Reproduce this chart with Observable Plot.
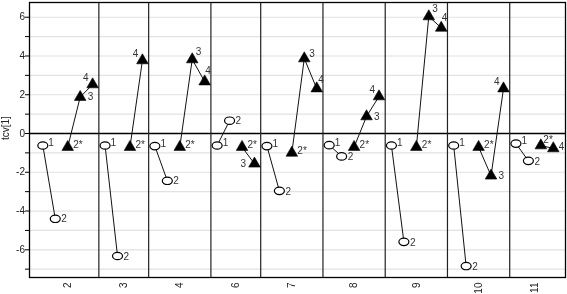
<!DOCTYPE html>
<html><head><meta charset="utf-8">
<script src="https://cdn.jsdelivr.net/npm/d3@7"></script>
<script src="https://cdn.jsdelivr.net/npm/@observablehq/plot@0.6"></script>
<style>
html,body{margin:0;padding:0;background:#fff;}
#chart svg{opacity:0.999;will-change:transform;}
</style>
</head><body><div id="chart"></div>
<script>
// ---- data ----
const panels = ["2","3","4","6","7","8","9","10","11"];
const obsLabels = [
  ["1","2","2*","3","4"],
  ["1","2","2*","4"],
  ["1","2","2*","3","4"],
  ["1","2","2*","3"],
  ["1","2","2*","3","4"],
  ["1","2","2*","3","4"],
  ["1","2","2*","3","4"],
  ["1","2","2*","3","4"],
  ["1","2","2*","4"]
];
const tcv = [
  [-0.62, -4.40, -0.70, 1.88, 2.53],
  [-0.62, -6.32, -0.70, 3.77],
  [-0.65, -2.44, -0.70, 3.82, 2.68],
  [-0.62, 0.66, -0.70, -1.56],
  [-0.65, -2.96, -1.00, 3.87, 2.32],
  [-0.60, -1.18, -0.70, 0.88, 1.91],
  [-0.62, -5.59, -0.70, 6.04, 5.45],
  [-0.62, -6.84, -0.70, -2.18, 2.32],
  [-0.52, -1.41, -0.62, -0.77]
];
const yTicks = [-7,-6,-5,-4,-3,-2,-1,0,1,2,3,4,5,6];
const yLabel = "tcv[1]";

// ---- build table ----
const rows = [];
const starts = [];
const centers = [];
let idx = 0;
panels.forEach((p, pi) => {
  starts.push(idx);
  obsLabels[pi].forEach((lab, j) => {
    rows.push({panel: p, label: lab, value: tcv[pi][j], idx,
      kind: (lab === "1" || lab === "2") ? "circle" : "triangle"});
    idx++;
  });
  centers.push((starts[pi] + idx - 1) / 2);
});
const boundaries = starts.slice(1).map(s => s - 0.5);
const centerLabel = new Map(centers.map((c, i) => [c, panels[i]]));

// label placement (style config)
const defaultPlace = {
  "1": "r1", "2": "r2", "2*": "r1", "3": "r3", "4": "tl"
};
const overridePlace = {
  "4|3": "tr", "9|3": "tr", "7|3": "tr2", "6|3": "l",
  "4|4": "t", "9|4": "t", "7|4": "t2", "11|4": "r4", "11|2*": "t3"
};
const places = {
  r1:  {dx: 5.5, dy: -2.5, textAnchor: "start"},
  r2:  {dx: 6, dy: 0.5, textAnchor: "start"},
  r3:  {dx: 7.5, dy: 0, textAnchor: "start"},
  r4:  {dx: 5.5, dy: -2, textAnchor: "start"},
  tr:  {dx: 3.5, dy: -8, textAnchor: "start"},
  tr2: {dx: 5, dy: -4.5, textAnchor: "start"},
  tl:  {dx: -4, dy: -6.5, textAnchor: "end"},
  t:   {dx: 0.5, dy: -10.5, textAnchor: "start"},
  t2:  {dx: 1.5, dy: -9, textAnchor: "start"},
  t3:  {dx: 2.5, dy: -5.5, textAnchor: "start"},
  l:   {dx: -8.5, dy: 0.5, textAnchor: "end"}
};
rows.forEach(r => {
  r.place = overridePlace[r.panel + "|" + r.label] || defaultPlace[r.label];
});

// ellipse symbol
const ellipse = {
  draw(ctx, size) {
    const rx = Math.sqrt(size / Math.PI), ry = rx * 0.74, k = 0.5523;
    ctx.moveTo(rx, 0);
    ctx.bezierCurveTo(rx, ry * k, rx * k, ry, 0, ry);
    ctx.bezierCurveTo(-rx * k, ry, -rx, ry * k, -rx, 0);
    ctx.bezierCurveTo(-rx, -ry * k, -rx * k, -ry, 0, -ry);
    ctx.bezierCurveTo(rx * k, -ry, rx, -ry * k, rx, 0);
    ctx.closePath();
  }
};

const circles = rows.filter(d => d.kind === "circle");
const triangles = rows.filter(d => d.kind === "triangle");

const labelMarks = Object.keys(places).map(key =>
  Plot.text(rows.filter(d => d.place === key), {
    x: "idx", y: "value", text: "label",
    dx: places[key].dx, dy: places[key].dy, textAnchor: places[key].textAnchor,
    fill: "#333", fontSize: 10
  })
);

const chart = Plot.plot({
  width: 567, height: 294,
  marginLeft: 29, marginRight: 2, marginTop: 2, marginBottom: 17,
  style: {fontFamily: "'Liberation Sans', Arial, sans-serif", fontSize: "10px", background: "#fff", color: "#222"},
  x: {domain: [-1.07, 41.98], axis: null},
  y: {domain: [-7.43, 6.76], axis: null},
  marks: [
    Plot.gridY(yTicks, {stroke: "#e2e2e2", strokeOpacity: 1, strokeWidth: 1.2}),
    Plot.ruleY([0], {stroke: "#000", strokeWidth: 1.3}),
    Plot.ruleX(boundaries, {stroke: "#222", strokeWidth: 1.2}),
    Plot.line(circles, {x: "idx", y: "value", z: "panel", stroke: "#111", strokeWidth: 1}),
    Plot.line(triangles, {x: "idx", y: "value", z: "panel", stroke: "#111", strokeWidth: 1}),
    Plot.dot(circles, {x: "idx", y: "value", symbol: ellipse, r: 5, fill: "white", stroke: "#000", strokeWidth: 1.2}),
    Plot.dot(triangles, {x: "idx", y: "value", symbol: "triangle", r: 4.3, fill: "#000", stroke: "#000", strokeWidth: 0.6}),
    ...labelMarks,
    Plot.axisY(yTicks, {tickSize: 4, tickPadding: 0.5, tickFormat: d => d % 2 === 0 ? String(d) : "", label: null, fontSize: 10, stroke: "#000"}),
    Plot.axisX(centers, {tickSize: 0, tickPadding: 5, tickRotate: -90, tickFormat: d => centerLabel.get(d), label: null, fontSize: 10}),
    Plot.text([yLabel], {frameAnchor: "left", dx: -24, rotate: -90, fontSize: 10, fill: "#222"}),
    Plot.frame({stroke: "#000", strokeWidth: 1.3})
  ]
});
document.getElementById("chart").appendChild(chart);
</script>
</body></html>
